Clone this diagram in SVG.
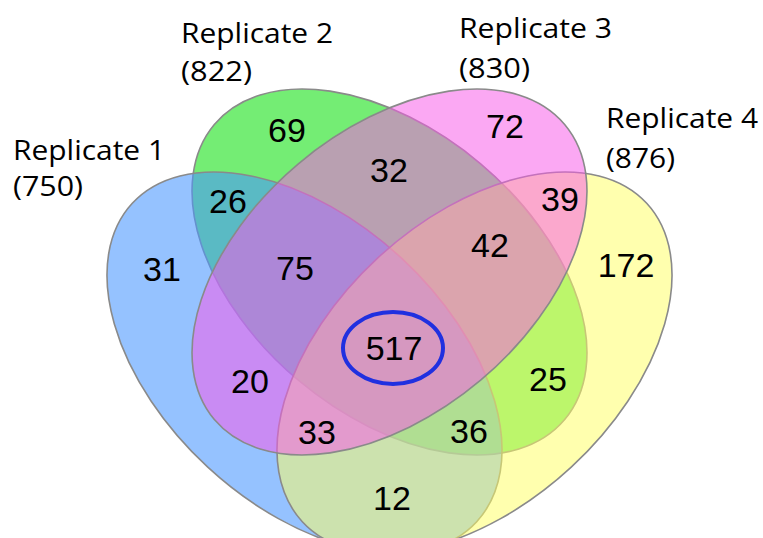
<svg xmlns="http://www.w3.org/2000/svg" width="763" height="538" viewBox="0 0 763 538">
<style>
.set{stroke:#8a8a8a;stroke-width:1.6}
.lbl{font-family:"Open Sans","Liberation Sans",sans-serif;font-size:28px;fill:#000}
.num{font-family:"Liberation Sans",Arial,sans-serif;font-size:34px;fill:#000;text-anchor:middle}
</style>
<rect width="763" height="538" fill="#fff"/>
<g id="set2">
<ellipse class="set" cx="389.5" cy="272" rx="229" ry="141.5" transform="rotate(40.1 389.5 272)" fill="rgb(24,225,24)" fill-opacity="0.6"/>
</g>
<g id="set1">
<ellipse class="set" cx="304.5" cy="362.5" rx="234.5" ry="142.5" transform="rotate(42.75 304.5 362.5)" fill="rgb(72,150,255)" fill-opacity="0.58"/>
</g>
<g id="set4">
<ellipse class="set" cx="474.5" cy="362.5" rx="234.5" ry="142.5" transform="rotate(-42.75 474.5 362.5)" fill="rgb(255,255,100)" fill-opacity="0.52"/>
</g>
<g id="set3">
<ellipse class="set" cx="389.5" cy="272" rx="229" ry="141.5" transform="rotate(-40.1 389.5 272)" fill="rgb(247,91,232)" fill-opacity="0.53"/>
</g>
<g id="labels">
<text class="lbl" x="13" y="160" textLength="152" lengthAdjust="spacingAndGlyphs">Replicate 1</text>
<text class="lbl" x="13" y="196" textLength="70" lengthAdjust="spacingAndGlyphs">(750)</text>
<text class="lbl" x="181" y="43" textLength="152" lengthAdjust="spacingAndGlyphs">Replicate 2</text>
<text class="lbl" x="181" y="81" textLength="71" lengthAdjust="spacingAndGlyphs">(822)</text>
<text class="lbl" x="459" y="38" textLength="153" lengthAdjust="spacingAndGlyphs">Replicate 3</text>
<text class="lbl" x="459" y="78" textLength="71" lengthAdjust="spacingAndGlyphs">(830)</text>
<text class="lbl" x="606" y="128" textLength="152" lengthAdjust="spacingAndGlyphs">Replicate 4</text>
<text class="lbl" x="606" y="168" textLength="69" lengthAdjust="spacingAndGlyphs">(876)</text>
</g>
<g id="counts">
<text class="num" x="287" y="142">69</text>
<text class="num" x="505" y="138">72</text>
<text class="num" x="228" y="213">26</text>
<text class="num" x="389" y="182">32</text>
<text class="num" x="560" y="211">39</text>
<text class="num" x="162" y="281">31</text>
<text class="num" x="295" y="280">75</text>
<text class="num" x="490" y="257">42</text>
<text class="num" x="626" y="277">172</text>
<text class="num" x="394" y="360">517</text>
<text class="num" x="250" y="393">20</text>
<text class="num" x="548" y="391">25</text>
<text class="num" x="317" y="444">33</text>
<text class="num" x="469" y="443">36</text>
<text class="num" x="392" y="510">12</text>
</g>
<g id="highlight">
<ellipse cx="393" cy="348" rx="50" ry="36" fill="none" stroke="#2030E0" stroke-width="4"/>
</g>
</svg>
